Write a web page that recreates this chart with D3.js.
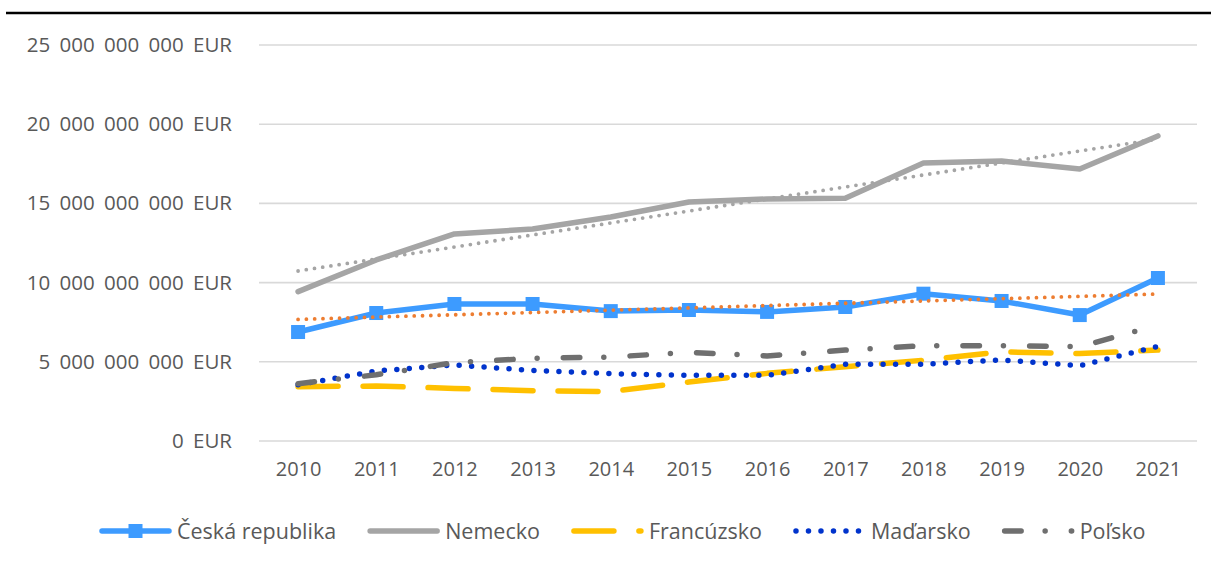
<!DOCTYPE html>
<html lang="sk">
<head>
    <meta charset="utf-8">
    <title>chart</title>
	<script src="https://d3js.org/d3.v7.min.js"></script>
	<style>
		body { margin:0; background:#fff; }
		text { font-family:"Open Sans", "Noto Sans", sans-serif; fill:#595959; }
	</style>
</head>
<body>
<svg id="chart" width="1211" height="568"></svg>
<script>
	// data (EUR)
	var years = ["2010","2011","2012","2013","2014","2015","2016","2017","2018","2019","2020","2021"];
	var cesko = [6.88e9, 8.08e9, 8.65e9, 8.65e9, 8.2e9, 8.27e9, 8.15e9, 8.46e9, 9.3e9, 8.84e9, 7.95e9, 10.29e9];
	var nemecko = [9.43e9, 11.43e9, 13.07e9, 13.38e9, 14.14e9, 15.09e9, 15.28e9, 15.32e9, 17.55e9, 17.68e9, 17.17e9, 19.26e9];
	var francuzsko = [3.43e9, 3.47e9, 3.32e9, 3.18e9, 3.12e9, 3.72e9, 4.27e9, 4.69e9, 5.1e9, 5.63e9, 5.52e9, 5.74e9];
	var madarsko = [3.55e9, 4.42e9, 4.8e9, 4.45e9, 4.25e9, 4.15e9, 4.15e9, 4.85e9, 4.85e9, 5.12e9, 4.75e9, 5.97e9];
	var polsko = [3.62e9, 4.18e9, 4.95e9, 5.22e9, 5.3e9, 5.6e9, 5.37e9, 5.74e9, 6.02e9, 6.02e9, 5.95e9, 7.32e9];
	var yTicks = [0, 5e9, 10e9, 15e9, 20e9, 25e9];

	var series = [
		{name:"Česká republika", values:cesko, color:"#3d9bff", dash:null, marker:true},
		{name:"Nemecko", values:nemecko, color:"#a5a5a5", dash:null},
		{name:"Francúzsko", values:francuzsko, color:"#ffc000", dash:"40 25"},
		{name:"Maďarsko", values:madarsko, color:"#0033cc", dash:"0 12.5"},
		{name:"Poľsko", values:polsko, color:"#6f6f6f", dash:"16.5 24 0 26.2"}
	];
	// linear trendlines for CZ and DE
	var trends = [
		{values:cesko, color:"#ed7d31"},
		{values:nemecko, color:"#a5a5a5"}
	];

	var svg = d3.select("#chart");
	var plotLeft = 259, plotRight = 1197, plotTop = 45, plotBottom = 441;

	var x = d3.scalePoint().domain(years).range([plotLeft, plotRight]).padding(0.5);
	var y = d3.scaleLinear().domain([0, 25e9]).range([plotBottom, plotTop]);

	var loc = d3.formatLocale({decimal:",", thousands:" ", grouping:[3], currency:["",""]});
	var fmt = loc.format(",");

	// top rule
	svg.append("line")
		.attr("x1", 6).attr("x2", 1211)
		.attr("y1", 13).attr("y2", 13)
		.style("stroke", "#000").style("stroke-width", 2.5);

	// gridlines
	svg.append("g").selectAll("line").data(yTicks).enter().append("line")
		.attr("x1", plotLeft).attr("x2", plotRight)
		.attr("y1", function(d){ return y(d); })
		.attr("y2", function(d){ return y(d); })
		.style("stroke", "#d9d9d9").style("stroke-width", 1.6);

	var yAxis = svg.append("g")
		.attr("transform", "translate(" + plotLeft + ",0)")
		.call(d3.axisLeft(y).tickValues(yTicks).tickSize(0).tickPadding(27)
			.tickFormat(function(d){ return fmt(d) + " EUR"; }));
	var xAxis = svg.append("g")
		.attr("transform", "translate(0," + plotBottom + ")")
		.call(d3.axisBottom(x).tickSize(0).tickPadding(21));
	svg.selectAll(".domain").remove();
	svg.selectAll(".tick text")
		.style("font-size", "20px")
		.style("font-family", "'Open Sans', sans-serif")
		.attr("fill", "#595959");
	yAxis.selectAll(".tick text")
		.style("font-size", "20.5px")
		.style("word-spacing", "4px");

	var line = d3.line()
		.x(function(d, i){ return x(years[i]); })
		.y(function(d){ return y(d); });

	series.forEach(function(s) {
		svg.append("path")
			.datum(s.values)
			.attr("d", line)
			.style("fill", "none")
			.style("stroke", s.color)
			.style("stroke-width", 5.5)
			.style("stroke-linecap", "round")
			.style("stroke-linejoin", "round")
			.style("stroke-dasharray", s.dash);
		if (s.marker) {
			svg.append("g").selectAll("rect").data(s.values).enter().append("rect")
				.attr("x", function(d, i){ return x(years[i]) - 7; })
				.attr("y", function(d){ return y(d) - 7; })
				.attr("width", 14).attr("height", 14)
				.style("fill", s.color);
		}
	});

	// least squares trend over the year index
	trends.forEach(function(t) {
		var n = t.values.length;
		var mx = (n - 1) / 2, my = d3.mean(t.values);
		var sxy = d3.sum(t.values, function(v, i){ return (i - mx) * (v - my); });
		var sxx = d3.sum(t.values, function(v, i){ return (i - mx) * (i - mx); });
		var b = sxy / sxx, a = my - b * mx;
		var ends = [a, a + b * (n - 1)];
		svg.append("line")
			.attr("x1", x(years[0])).attr("x2", x(years[n - 1]))
			.attr("y1", y(ends[0])).attr("y2", y(ends[1]))
			.style("stroke", t.color)
			.style("stroke-width", 3.8)
			.style("stroke-linecap", "round")
			.style("stroke-dasharray", "0 8.3");
	});

	// legend
	var legend = svg.append("g");
	var lx = 99, ly = 531;
	series.forEach(function(s) {
		var g = legend.append("g").attr("transform", "translate(" + lx + ",0)");
		g.append("line")
			.attr("x1", 3).attr("x2", 70)
			.attr("y1", ly).attr("y2", ly)
			.style("stroke", s.color)
			.style("stroke-width", 5.5)
			.style("stroke-linecap", "round")
			.style("stroke-dasharray", s.dash);
		if (s.marker) {
			g.append("rect").attr("x", 36.5 - 7).attr("y", ly - 7)
				.attr("width", 14).attr("height", 14).style("fill", s.color);
		}
		var t = g.append("text")
			.attr("x", 78).attr("y", ly + 7.5)
			.style("font-size", "21.5px")
			.text(s.name);
		lx += 78 + t.node().getComputedTextLength() + 31;
	});
</script>
</body>
</html>
